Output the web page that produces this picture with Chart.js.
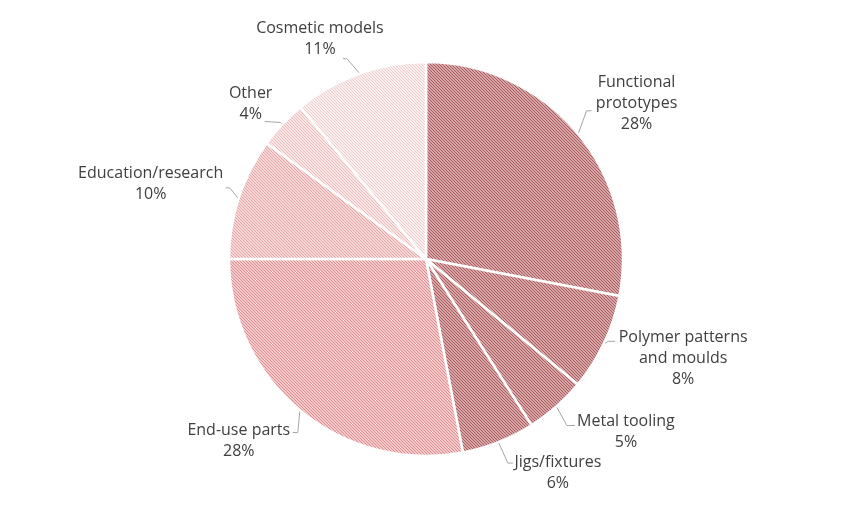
<!DOCTYPE html>
<html>
<head>
<meta charset="utf-8">
<script src="https://cdn.jsdelivr.net/npm/chart.js@4.4.1/dist/chart.umd.min.js"></script>
<style>
  html, body { margin: 0; padding: 0; background: #ffffff; }
  #wrap { width: 847px; height: 509px; position: relative; }
</style>
</head>
<body>
<div id="wrap"><canvas id="c" width="847" height="509"></canvas></div>
<script>
// ---- data ----
const categories = [
  ['Functional', 'prototypes'],
  ['Polymer patterns', 'and moulds'],
  ['Metal tooling'],
  ['Jigs/fixtures'],
  ['End-use parts'],
  ['Education/research'],
  ['Other'],
  ['Cosmetic models']
];
const shares = [28, 8, 5, 6, 28, 10, 4, 11];

// ---- styles ----
const stripeColors = [
  ['#d8a5a6', '#a85d61'],
  ['#d8a5a6', '#a85d61'],
  ['#d8a5a6', '#a85d61'],
  ['#d8a5a6', '#a85d61'],
  ['#f5c9ca', '#d88f92'],
  ['#f7d6d6', '#e0a6a8'],
  ['#fae5e5', '#eabdbf'],
  ['#fbeeee', '#eecdce']
];
function makePattern(bg, fg) {
  const t = document.createElement('canvas');
  t.width = 3; t.height = 3;
  const g = t.getContext('2d');
  g.fillStyle = bg; g.fillRect(0, 0, 3, 3);
  g.fillStyle = fg;
  for (let y = 0; y < 3; y++) {
    for (let x = 0; x < 3; x++) {
      if (((x - y) % 3 + 3) % 3 === 0) g.fillRect(x, y, 1, 1);
    }
  }
  return g.createPattern(t, 'repeat');
}
const ctx0 = document.getElementById('c').getContext('2d');
const patterns = stripeColors.map(c => makePattern(c[0], c[1]));

// label layout relative to the arc's outer mid point: elbow, end, text centre
const labelLayout = [
  { elbow: [8, -22],  end: [13, -22], text: [58, -29] },
  { elbow: [3, -2],   end: [10, -2],  text: [78, 15] },
  { elbow: [10, 18],  end: [18, 18],  text: [69, 24] },
  { elbow: [9, 20],   end: [14, 20],  text: [59, 30] },
  { elbow: [-2, 21],  end: [-7, 21],  text: [-61, 29] },
  { elbow: [-8, -10], end: [-12, -10], text: [-87, -14] },
  { elbow: [-1, -1],  end: [-17, -2], text: [-31, -20] },
  { elbow: [-12, -14], end: [-16, -14], text: [-39, -34] }
];
const FONT = '16px "Open Sans", "Liberation Sans", sans-serif';
const LINE_H = 21;

const labelPlugin = {
  id: 'outLabels',
  afterDatasetsDraw(chart) {
    const ctx = chart.ctx;
    const meta = chart.getDatasetMeta(0);
    ctx.save();
    meta.data.forEach((arc, i) => {
      const p = arc.getProps(['x', 'y', 'startAngle', 'endAngle', 'outerRadius'], true);
      const mid = (p.startAngle + p.endAngle) / 2;
      const ax = p.x + (p.outerRadius + 1) * Math.cos(mid);
      const ay = p.y + (p.outerRadius + 1) * Math.sin(mid);
      const L = labelLayout[i];
      ctx.strokeStyle = '#a6a6a6';
      ctx.lineWidth = 1;
      ctx.beginPath();
      ctx.moveTo(ax, ay);
      ctx.lineTo(ax + L.elbow[0], ay + L.elbow[1]);
      ctx.lineTo(ax + L.end[0], ay + L.end[1]);
      ctx.stroke();
      const lines = categories[i].concat([shares[i] + '%']);
      const cx = ax + L.text[0];
      const cy = ay + L.text[1];
      ctx.font = FONT;
      ctx.fillStyle = '#404040';
      ctx.textAlign = 'center';
      ctx.textBaseline = 'middle';
      const top = cy - (lines.length - 1) * LINE_H / 2;
      lines.forEach((ln, k) => ctx.fillText(ln, cx, top + k * LINE_H));
    });
    ctx.restore();
  }
};

new Chart(ctx0, {
  type: 'pie',
  data: {
    labels: categories.map(c => c.join(' ')),
    datasets: [{
      data: shares,
      backgroundColor: patterns,
      borderColor: '#ffffff',
      borderWidth: 2.5,
      hoverOffset: 0,
      radius: 197
    }]
  },
  options: {
    responsive: false,
    animation: false,
    layout: { padding: { top: 59, bottom: 50, left: 5, right: 0 } },
    plugins: {
      legend: { display: false },
      tooltip: { enabled: false }
    }
  },
  plugins: [labelPlugin]
});
</script>
</body>
</html>
